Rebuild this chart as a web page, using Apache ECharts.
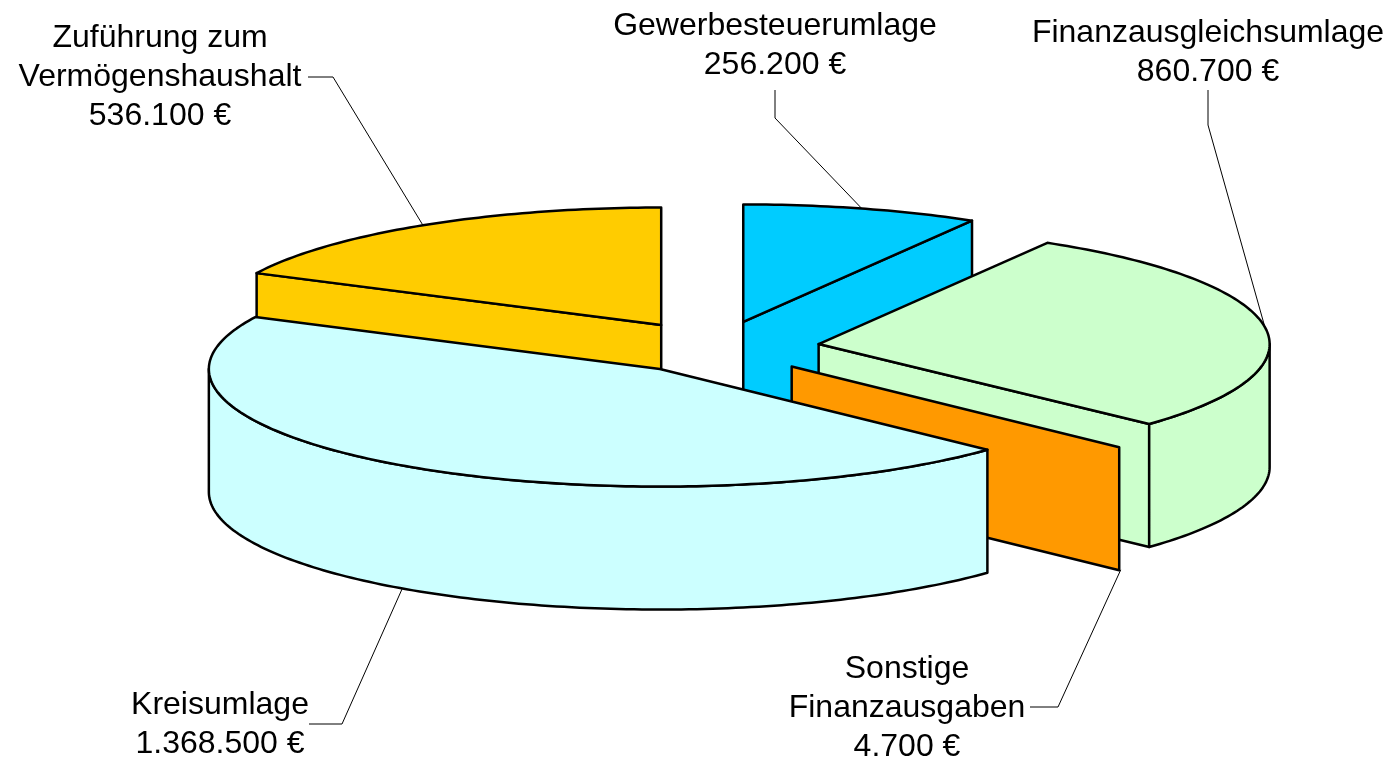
<!DOCTYPE html>
<html>
<head>
<meta charset="utf-8">
<title>Finanzausgaben</title>
<script src="https://cdn.jsdelivr.net/npm/echarts@6/dist/echarts.min.js"></script>
<style>
  html, body { margin: 0; padding: 0; background: #fff; }
  #main { width: 1396px; height: 761px; }
</style>
</head>
<body>
<div id="main"></div>
<script>
// in drawing order, clockwise from 12 o'clock
const categories = ['Gewerbesteuerumlage', 'Finanzausgleichsumlage', 'Sonstige\nFinanzausgaben', 'Kreisumlage', 'Zuführung zum\nVermögenshaushalt']
const values = [256200, 860700, 4700, 1368500, 536100]
const colors = ['#00CCFF', '#CCFFCC', '#FF9900', '#CCFFFF', '#FFCC00']

// label centre, then the elbow points of the leader line
const labelCenters = [[775, 46], [1208, 53], [907, 708], [220, 725], [160, 77]]
const leaderElbows = [
  [[775, 90], [775, 118]],
  [[1208, 90], [1208, 125]],
  [[1030, 707], [1058, 707]],
  [[309, 724], [342, 724]],
  [[308, 77], [333, 77]]
]

// pie geometry
const cx = 716
const cy = 348
const rx = 451
const ry = 117.5
const depth = 123
const explodes = [0.23, 0.23, 0.23, 0.218, 0.23]

const total = values.reduce((a, b) => a + b, 0)
let acc = 0
const slices = values.map(v => {
  const a0 = acc / total * 360
  acc += v
  return { a0, a1: acc / total * 360 }
})

const rad = d => d * Math.PI / 180
// angle is clockwise from the top of the ellipse
const rim = (o, a, drop) => [o[0] + rx * Math.sin(rad(a)), o[1] - ry * Math.cos(rad(a)) + (drop || 0)]

function arcPoints (o, a0, a1, drop) {
  const pts = []
  const n = Math.max(1, Math.ceil(a1 - a0))
  for (let i = 0; i <= n; i++) pts.push(rim(o, a0 + (a1 - a0) * i / n, drop))
  return pts
}

function renderItem (params, api) {
  const i = params.dataIndex
  const { a0, a1 } = slices[i]
  const mid = (a0 + a1) / 2
  // every slice moves away from the centre along its bisector
  const o = [cx + explodes[i] * rx * Math.sin(rad(mid)), cy - explodes[i] * ry * Math.cos(rad(mid))]
  const z = Math.round(o[1]) * 10
  const style = { fill: colors[i], stroke: '#000', lineWidth: 2.5, lineJoin: 'round' }
  const poly = (points, z2) => ({ type: 'polygon', z2, shape: { points }, style })
  const children = []

  // cut faces, only those turned to the viewer
  const cut = a => {
    const r = rim(o, a)
    children.push(poly([o, r, [r[0], r[1] + depth], [o[0], o[1] + depth]], z))
  }
  if (Math.sin(rad(a0)) < -0.001) cut(a0)
  if (Math.sin(rad(a1)) > 0.001) cut(a1)

  // a sliver under one degree only shows its cut face
  if (a1 - a0 >= 1) {
    // outer wall, front half of the ellipse
    const w0 = Math.max(a0, 90)
    const w1 = Math.min(a1, 270)
    if (w1 > w0) {
      const top = arcPoints(o, w0, w1, 0)
      const bottom = arcPoints(o, w0, w1, depth).reverse()
      children.push(poly(top.concat(bottom), z + 1))
    }
    // top face
    children.push(poly([o].concat(arcPoints(o, a0, a1, 0)), z + 2))
  }

  // leader line runs to the rim at the bisector
  const front = mid > 90 && mid < 270
  const anchor = rim(o, mid, front ? depth : 0)
  children.push({
    type: 'polyline',
    z2: 50000,
    shape: { points: leaderElbows[i].concat([anchor]) },
    style: { fill: null, stroke: '#000', lineWidth: 1 }
  })

  const amount = api.value(0).toString().replace(/\B(?=(\d{3})+$)/g, '.') + ' €'
  children.push({
    type: 'text',
    z2: 50001,
    style: {
      x: labelCenters[i][0],
      y: labelCenters[i][1],
      text: categories[i] + '\n' + amount,
      fill: '#000',
      font: '32px "Liberation Sans", Arial, sans-serif',
      lineHeight: 39,
      align: 'center',
      verticalAlign: 'middle'
    }
  })
  return { type: 'group', children }
}

const myChart = echarts.init(document.getElementById('main'))
myChart.setOption({
  animation: false,
  backgroundColor: '#fff',
  series: [{
    type: 'custom',
    coordinateSystem: 'none',
    silent: true,
    renderItem,
    data: values.map(v => [v])
  }]
})
</script>
</body>
</html>
